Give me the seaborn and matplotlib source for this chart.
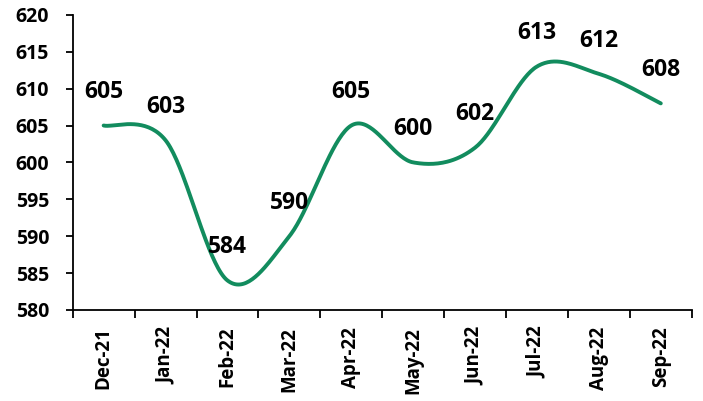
import numpy as np
import pandas as pd
import matplotlib
matplotlib.use("Agg")
import matplotlib.pyplot as plt
import seaborn as sns

months = ["Dec-21", "Jan-22", "Feb-22", "Mar-22", "Apr-22", "May-22",
          "Jun-22", "Jul-22", "Aug-22", "Sep-22"]
values = [605, 603, 584, 590, 605, 600, 602, 613, 612, 608]
y_ticks = [580, 585, 590, 595, 600, 605, 610, 615, 620]

sns.set_theme(style="white")
plt.rcParams['font.family'] = ['Open Sans', 'DejaVu Sans']

LINE_COLOR = "#128C5E"


def smooth(xv, yv, n=40):
    """Excel-like smoothed line (Catmull-Rom Bezier) through the points."""
    P = np.column_stack([xv, yv]).astype(float)
    out = []
    for i in range(len(P) - 1):
        p0 = P[i - 1] if i > 0 else P[i]
        p1 = P[i]
        p2 = P[i + 1]
        p3 = P[i + 2] if i + 2 < len(P) else P[i + 1]
        c1 = p1 + (p2 - p0) / 6.0
        c2 = p2 - (p3 - p1) / 6.0
        t = np.linspace(0, 1, n, endpoint=(i == len(P) - 2))[:, None]
        seg = ((1 - t) ** 3) * p1 + 3 * ((1 - t) ** 2) * t * c1 + 3 * (1 - t) * t ** 2 * c2 + t ** 3 * p2
        out.append(seg)
    out = np.vstack(out)
    return out[:, 0], out[:, 1]


xpos = np.arange(len(months))
sx, sy = smooth(xpos, values)
curve = pd.DataFrame({"x": sx, "y": sy})

fig = plt.figure(figsize=(7.03, 4.01), dpi=100)
ax = fig.add_axes([0.1034, 0.227, 0.8806, 0.736])

sns.lineplot(data=curve, x="x", y="y", ax=ax, color=LINE_COLOR, linewidth=2.8,
             sort=False, estimator=None)

for xi, v in zip(xpos, values):
    ax.annotate(f"{v}", xy=(xi, v), xytext=(0, 24), textcoords="offset points",
                ha="center", va="center", fontsize=16.5, fontweight="bold", color="black")

ax.set_xlim(-0.5, len(months) - 0.5)
ax.set_ylim(580, 620)
ax.set_yticks(y_ticks)
ax.set_yticklabels([str(t) for t in y_ticks], fontsize=14, fontweight="bold")
ax.set_xticks(xpos)
ax.set_xticklabels(months, rotation=90, fontsize=13.5, fontweight="bold")
ax.set_xticks(np.arange(-0.5, len(months)), minor=True)
ax.tick_params(axis="x", which="major", length=0, pad=12, colors="black")
ax.tick_params(axis="x", which="minor", length=6, width=1.3, color="black", direction="out", bottom=True)
ax.tick_params(axis="y", length=5, width=1.3, color="black", direction="out", left=True, pad=12, colors="black")
ax.set_xlabel("")
ax.set_ylabel("")

for s in ["top", "right"]:
    ax.spines[s].set_visible(False)
for s in ["left", "bottom"]:
    ax.spines[s].set_color("black")
    ax.spines[s].set_linewidth(1.3)

fig.savefig("out.png", dpi=100)
